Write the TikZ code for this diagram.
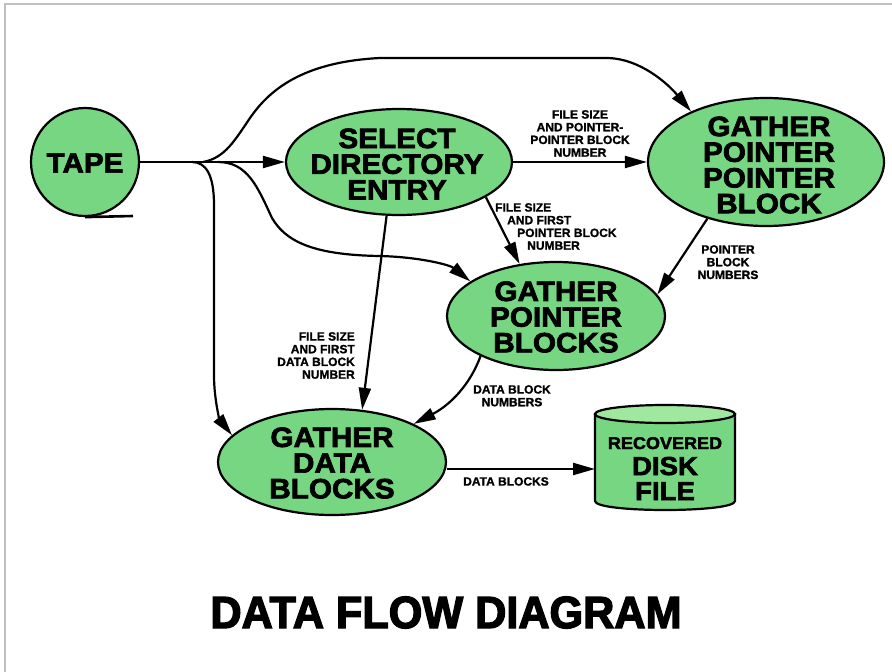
\documentclass[tikz,border=0pt]{standalone}
\usepackage{fontspec}
\setmainfont{Liberation Sans}
\newfontfamily\bigfont{Liberation Sans Bold}[FakeStretch=1.06,FakeBold=2.5]
\newfontfamily\smallfont{Liberation Sans Bold}[FakeBold=1.2]
\newfontfamily\titlefont{Liberation Sans Bold}[FakeStretch=0.96,FakeBold=3]
\usetikzlibrary{shapes.geometric,arrows.meta}
\definecolor{dfgreen}{RGB}{118,214,129}
\definecolor{dflight}{RGB}{160,232,160}
\tikzset{
  flow/.style={line width=2.2pt,-{Triangle[length=22pt,width=12pt]}},
  proc/.style={ellipse,draw,line width=2.2pt,fill=dfgreen,inner sep=0pt},
  bigtext/.style={inner sep=0pt,align=center,font=\bigfont\fontsize{28}{25.7}\selectfont},
  smalltext/.style={inner sep=0pt,font=\smallfont\fontsize{12}{12.7}\selectfont},
}
\begin{document}
\begin{tikzpicture}[x=1pt,y=-1pt]
\useasboundingbox (0,0) rectangle (892,672);
% page frame
\draw[black!25,line width=1.2pt] (5,672) -- (5,4) -- (892,4);

% processes
\node[circle,draw,line width=2.2pt,fill=dfgreen,minimum size=108pt,inner sep=0pt] (tape) at (85,162) {};
\node[bigtext] (tape-t) at (85,163) {TAPE};
\draw[line width=2.6pt] (tape.south) -- (133,216);

\node[proc,minimum width=226pt,minimum height=106pt] (sel) at (399,162) {};
\node[bigtext] (sel-t) at (397,164) {SELECT\\DIRECTORY\\ENTRY};

\node[proc,minimum width=236pt,minimum height=128pt] (gppb) at (766,162) {};
\node[bigtext] (gppb-t) at (769,165) {GATHER\\POINTER\\POINTER\\BLOCK};

\node[proc,minimum width=218pt,minimum height=108pt] (gpb) at (556,316) {};
\node[bigtext] (gpb-t) at (556,317) {GATHER\\POINTER\\BLOCKS};

\node[proc,minimum width=228pt,minimum height=106pt] (gdb) at (332,462) {};
\node[bigtext] (gdb-t) at (332,463) {GATHER\\DATA\\BLOCKS};

% data store
\filldraw[line width=2.2pt,fill=dfgreen] (595,414) -- (595,501)
  .. controls (595,513) and (735,513) .. (735,501) -- (735,414) -- cycle;
\filldraw[line width=2.2pt,fill=dflight] (665,414) ellipse [x radius=70pt,y radius=9pt];
\coordinate (disk) at (595,469);
\node[inner sep=0pt,anchor=base,font=\bigfont\fontsize{17}{17}\selectfont] (disk-t1) at (665,449) {RECOVERED};
\node[inner sep=0pt,anchor=base,font=\bigfont\fontsize{26}{26}\selectfont] (disk-t2) at (665,475) {DISK};
\node[inner sep=0pt,anchor=base,font=\bigfont\fontsize{26}{26}\selectfont] (disk-t3) at (665,500) {FILE};

% tape fan-out
\coordinate (jdown) at (192,162);
\coordinate (jup) at (203,162);
\coordinate (jmid) at (218,162);
\draw[flow] (tape.east) -- (sel.west);
\draw[flow] (jup) .. controls (225,158) and (235,140) .. (250,118)
  .. controls (268,92) and (300,62) .. (380,58) -- (606,58)
  .. controls (640,58) and (668,84) .. (gppb.146);
\draw[flow] (jdown) .. controls (206,162) and (214,175) .. (214,205)
  -- (214,375) .. controls (214,400) and (220,420) .. (gdb.165);
\draw[flow] (jmid) .. controls (248,162) and (258,188) .. (272,218)
  .. controls (285,240) and (310,255) .. (380,256)
  .. controls (420,257) and (450,265) .. (gpb.158);

% internal flows
\draw[flow] (sel.east) -- (gppb.west);
\draw[flow] (sel.338) -- (gpb.125);
\draw[flow] (sel.257) -- (gdb.60);
\draw[flow] (gppb.224) -- (gpb.12);
\draw[flow] (gpb.208) .. controls (470,385) and (450,405) .. (gdb.25);
\draw[flow] (gdb.east |- disk) -- (disk);

% flow labels
\node[smalltext,align=center,anchor=north] (l-ppb) at (580,110)
  {FILE SIZE\\AND POINTER-\\POINTER BLOCK\\NUMBER};
\node[smalltext,align=left,anchor=north west] (l-pb) at (495,203)
  {FILE SIZE\\\hspace*{12pt}AND FIRST\\\hspace*{22pt}POINTER BLOCK\\\hspace*{32pt}NUMBER};
\node[smalltext,align=right,anchor=north east] (l-db) at (355,332)
  {FILE SIZE\\AND FIRST\\DATA BLOCK\\NUMBER};
\node[smalltext,align=center,anchor=north] (l-pbn) at (728,245)
  {POINTER\\BLOCK\\NUMBERS};
\node[smalltext,align=center,anchor=north] (l-dbn) at (512,385)
  {DATA BLOCK\\NUMBERS};
\node[smalltext,anchor=north] (l-data) at (506,477) {DATA BLOCKS};

% title
\node[inner sep=0pt,anchor=base,font=\titlefont\fontsize{45}{45}\selectfont] (title) at (446,628) {DATA FLOW DIAGRAM};
\end{tikzpicture}
\end{document}
